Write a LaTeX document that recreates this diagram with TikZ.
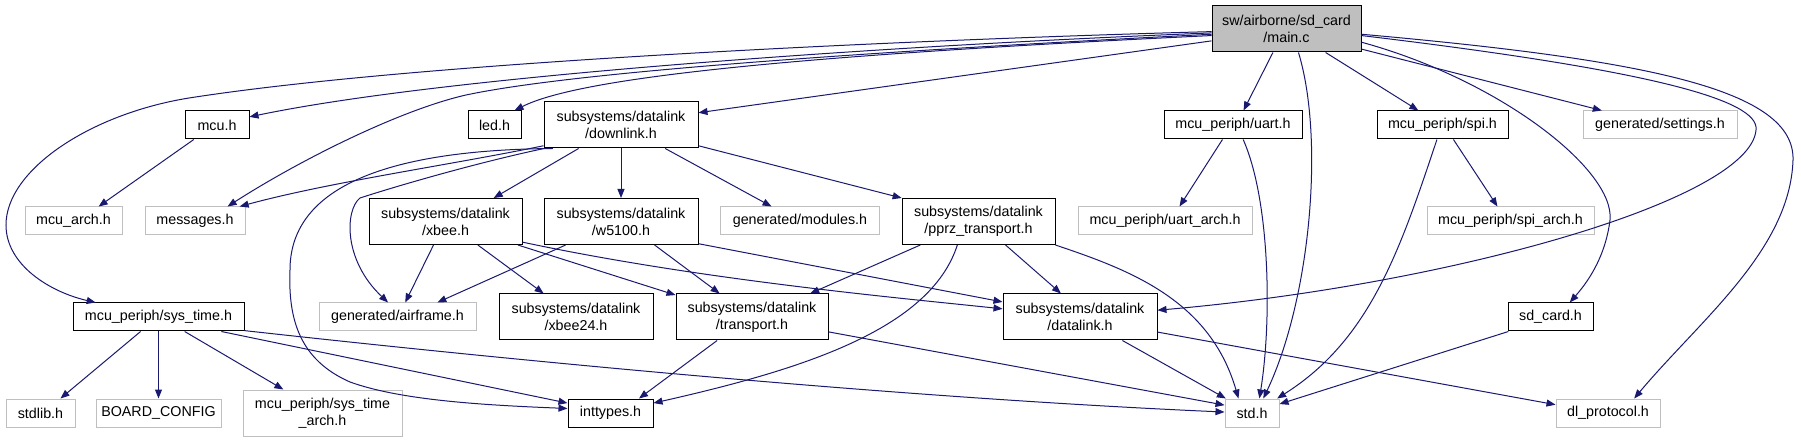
\documentclass[tikz,border=0pt]{standalone}
\usepackage{fontspec}
\setmainfont{Liberation Sans}
\usetikzlibrary{arrows.meta}
\definecolor{edgeblue}{RGB}{25,25,112}
\definecolor{grey75}{RGB}{191,191,191}

\begin{document}
\begin{tikzpicture}[x=1pt, y=-1pt,
  >={Triangle[length=9pt,width=7pt]},
  every node/.style={font=\fontsize{14.3}{17}\selectfont, inner sep=0pt, align=center},
  file/.style={draw=black, line width=1pt, fill=white, minimum height=28pt},
  file2/.style={file, minimum height=46pt},
  ext/.style={draw=grey75, line width=1pt, fill=white, minimum height=28pt},
  ext2/.style={ext, minimum height=46pt},
  dep/.style={->, draw=edgeblue, line width=1pt}]
  \useasboundingbox (0,0) rectangle (1801,443);
  % The file whose includes are shown.
  \node[file2, fill=grey75, minimum width=149pt] (main) at (1286.5,29) {sw/airborne/sd\_card\\/main.c};
  % Direct includes of main.c.
  \node[file, minimum width=64pt] (mcu) at (217,125) {mcu.h};
  \node[file, minimum width=53pt] (led) at (494.5,125) {led.h};
  \node[file2, minimum width=154pt] (downlink) at (621,125) {subsystems/datalink\\/downlink.h};
  \node[file, minimum width=138pt] (uart) at (1233,125) {mcu\_periph/uart.h};
  \node[file, minimum width=131pt] (spi) at (1442.5,125) {mcu\_periph/spi.h};
  \node[ext, minimum width=154pt] (settings) at (1660,125) {generated/settings.h};
  % Third row.
  \node[ext, minimum width=97pt] (mcuarch) at (73.5,221) {mcu\_arch.h};
  \node[ext, minimum width=100pt] (messages) at (195,221) {messages.h};
  \node[file2, minimum width=153pt] (xbee) at (445.5,221.5) {subsystems/datalink\\/xbee.h};
  \node[file2, minimum width=154pt] (w5100) at (621,221.5) {subsystems/datalink\\/w5100.h};
  \node[ext, minimum width=159pt] (modules) at (800,221) {generated/modules.h};
  \node[file2, minimum width=153pt] (pprz) at (978.5,221.5) {subsystems/datalink\\/pprz\_transport.h};
  \node[ext, minimum width=174pt] (uartarch) at (1165,221) {mcu\_periph/uart\_arch.h};
  \node[ext, minimum width=167pt] (spiarch) at (1510.5,221) {mcu\_periph/spi\_arch.h};
  % Fourth row.
  \node[file, minimum width=171pt] (systime) at (158.5,317) {mcu\_periph/sys\_time.h};
  \node[ext, minimum width=157pt] (airframe) at (397.5,317) {generated/airframe.h};
  \node[file2, minimum width=154pt] (xbee24) at (576,317) {subsystems/datalink\\/xbee24.h};
  \node[file2, minimum width=152pt] (transport) at (752,317) {subsystems/datalink\\/transport.h};
  \node[file2, minimum width=154pt] (datalink) at (1080,317) {subsystems/datalink\\/datalink.h};
  \node[file, minimum width=85pt] (sdcard) at (1550.5,317) {sd\_card.h};
  % Bottom row.
  \node[ext, minimum width=69pt] (stdlib) at (40.5,413) {stdlib.h};
  \node[ext, minimum width=125pt] (boardcfg) at (158.5,413) {BOARD\_CONFIG};
  \node[ext2, minimum width=159pt] (systimearch) at (322.5,413) {mcu\_periph/sys\_time\\\_arch.h};
  \node[file, minimum width=85pt] (inttypes) at (610.5,413) {inttypes.h};
  \node[ext, minimum width=54pt] (stdh) at (1252,413) {std.h};
  \node[ext, minimum width=104pt] (dlproto) at (1608,413) {dl\_protocol.h};

  % Edges out of main.c, left side.
  \draw[dep] (main.182) .. controls (900,40) and (420,62) .. (189,98)
    .. controls (90,114) and (6,170) .. (6,225) .. controls (6,265) and (50,292) .. (systime.167);
  \draw[dep] (main.183) .. controls (900,45) and (450,75) .. (mcu.14);
  \draw[dep] (main.184) .. controls (800,55) and (560,75) .. (466,95)
    .. controls (400,110) and (300,160) .. (messages.24);
  \draw[dep] (main.185) .. controls (760,57) and (575,80) .. (led.36);
  \draw[dep] (main.189) -- (downlink.9);
  % Edges out of main.c, below and right.
  \draw[dep] (main.240) -- (uart.54);
  \draw[dep] (main.297) .. controls (1325,140) and (1310,300) .. (stdh.52);
  \draw[dep] (main.329) -- (spi.149);
  \draw[dep] (main.345) -- (settings.166);
  \draw[dep] (main.350) .. controls (1500,80) and (1615,170) .. (1610,220)
    .. controls (1605,260) and (1585,285) .. (sdcard.37);
  \draw[dep] (main.355) .. controls (1650,70) and (1760,100) .. (1756,130)
    .. controls (1750,200) and (1450,285) .. (datalink.5);
  \draw[dep] (main.356) .. controls (1650,60) and (1795,90) .. (1793,160)
    .. controls (1790,250) and (1700,320) .. (dlproto.29);

  % downlink.h includes.
  \draw[dep] (downlink.195) .. controls (450,165) and (330,182) .. (messages.18);
  \draw[dep] (downlink.197) .. controls (480,162) and (400,185) .. (360,198)
    .. controls (345,210) and (343,260) .. (airframe.123);
  \draw[dep] (downlink.199) .. controls (380,150) and (290,190) .. (290,270)
    .. controls (288,320) and (300,360) .. (350,382)
    .. controls (400,400) and (480,405) .. (inttypes.174);
  \draw[dep] (downlink.209) -- (xbee.26);
  \draw[dep] (downlink.270) -- (w5100.90);
  \draw[dep] (downlink.332) -- (modules.153);
  \draw[dep] (downlink.345) -- (pprz.163);

  % Second level includes.
  \draw[dep] (mcu.212) -- (mcuarch.30);
  \draw[dep] (uart.234) -- (uartarch.45);
  \draw[dep] (uart.305) .. controls (1270,200) and (1272,320) .. (stdh.63);
  \draw[dep] (spi.307) -- (spiarch.132);
  \draw[dep] (spi.249) .. controls (1400,250) and (1370,340) .. (stdh.30);
  \draw[dep] (xbee.243) -- (airframe.62);
  \draw[dep] (xbee.324) -- (xbee24.144);
  \draw[dep] (xbee.342) -- (transport.164);
  \draw[dep] (xbee.345) .. controls (700,280) and (900,298) .. (datalink.174);
  \draw[dep] (w5100.203) -- (airframe.20);
  \draw[dep] (w5100.325) -- (transport.144);
  \draw[dep] (w5100.344) -- (datalink.169);
  \draw[dep] (pprz.202) -- (transport.22);
  \draw[dep] (pprz.228) .. controls (930,330) and (800,370) .. (inttypes.13);
  \draw[dep] (pprz.319) -- (datalink.129);
  \draw[dep] (pprz.343) .. controls (1130,270) and (1210,300) .. (stdh.133);
  \draw[dep] (sdcard.199) -- (stdh.18);

  % Third level includes.
  \draw[dep] (systime.219) -- (stdlib.36);
  \draw[dep] (systime.270) -- (boardcfg.90);
  \draw[dep] (systime.331) -- (systimearch.149);
  \draw[dep] (systime.347) -- (inttypes.167);
  \draw[dep] (systime.351) .. controls (600,370) and (950,400) .. (stdh.178);
  \draw[dep] (transport.214) -- (inttypes.27);
  \draw[dep] (transport.349) -- (stdh.164);
  \draw[dep] (datalink.331) -- (stdh.151);
  \draw[dep] (datalink.349) -- (dlproto.171);
\end{tikzpicture}
\end{document}
